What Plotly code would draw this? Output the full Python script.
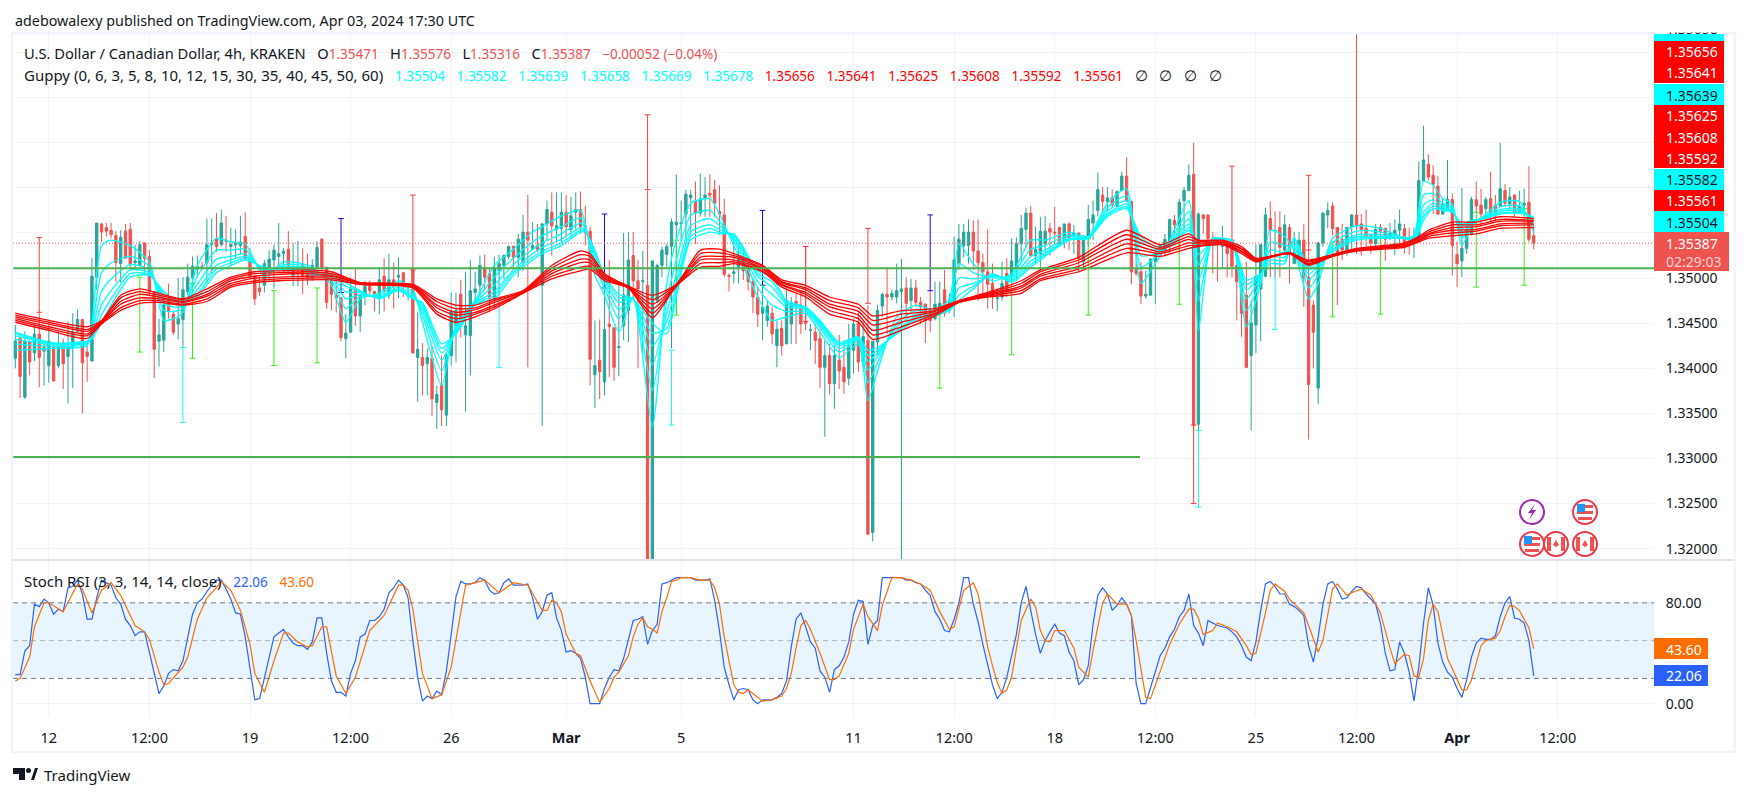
"""USD/CAD 4h chart with Guppy ribbons and Stoch RSI, drawn with Plotly."""

import pandas as pd
import plotly.graph_objects as go
from plotly.subplots import make_subplots

# every price below is in points above 1.30000, one point = 0.0001
POINT = 0.0001
BASE_PRICE = 1.30

# (open, high, low, close) per 4h bar
candles_feb_a = [
    (411,448,400,430),(433,439,367,391),(368,441,366,430),(429,431,392,407),(417,449,408,438),(438,462,379,412),
    (419,427,381,423),(403,451,384,430),(424,429,385,386),(403,440,400,424),(428,433,377,405),(413,452,361,424),
    (423,461,378,440),(441,465,440,454),(454,454,350,406),(418,427,385,413),(408,522,408,502),(501,561,487,561),
    (560,561,540,551),(556,561,546,552),(553,561,544,548),(547,552,496,517),(516,553,495,545),(552,560,522,522),
    (554,561,509,515),(517,537,509,519),(514,541,514,537),(539,539,503,522),(524,531,481,485),(485,485,389,421),
    (430,455,402,437),(431,479,418,470),(474,494,455,464),(460,464,437,440),(449,500,432,455),(454,501,424,487),
    (485,516,481,501),(500,524,490,513),(510,525,501,513),(513,518,510,512),(517,566,494,537),(537,566,505,539),
    (544,572,529,535),(537,576,535,561),(542,569,529,541),(535,556,514,537),(537,554,522,539),(536,569,527,540),
    (546,573,520,521),(521,533,501,502),(502,503,470,477),(489,503,480,485),(492,520,484,516),(506,531,497,521),
    (520,537,488,531),(524,561,514,527),(527,533,507,530),(532,552,507,508),(503,539,491,512),(510,541,491,511),
    (515,533,482,503),(511,527,492,501),
]
candles_feb_b = [
    (501,521,497,514),(512,541,510,534),(543,544,510,510),(512,512,466,473),(497,506,464,482),(481,497,462,478),
    (478,479,430,434),(433,460,411,439),(440,501,440,488),(488,510,447,458),(458,481,440,481),(480,497,470,491),
    (491,497,482,486),(485,486,463,479),(479,512,460,498),(502,522,463,486),(481,527,477,498),(498,517,466,491),
    (501,523,478,503),(506,506,479,492),(480,490,475,481),(509,509,416,417),(412,462,363,421),(412,428,370,403),
    (405,422,370,412),(411,425,347,366),(362,381,333,371),(381,414,336,354),(348,416,336,415),(414,484,403,463),
    (447,484,407,464),(482,498,434,455),(437,507,352,447),(436,520,392,486),(484,507,470,488),(492,525,479,514),
    (512,526,486,501),(505,510,462,477),(476,524,465,510),(508,526,481,516),(514,526,499,525),(524,536,521,535),
    (535,536,510,523),(523,549,501,543),(518,570,508,551),(551,592,401,542),(532,562,531,536),(536,560,529,532),
    (492,561,336,560),(560,586,542,576),(573,595,525,558),(554,595,540,558),(555,595,540,573),(573,592,545,557),
    (554,590,543,569),(573,595,555,576),(576,596,549,557),(558,580,536,550),
]
candles_mar_a = [
    (552,557,381,410),(393,453,356,403),(409,454,366,396),(385,520,370,443),(449,520,390,446),(445,445,386,401),
    (423,495,391,424),(447,550,431,481),(464,551,429,520),(525,551,477,497),(497,520,400,488),(496,530,416,497),
    (492,597,150,170),(170,519,150,519),(475,516,472,514),(514,535,501,531),(526,538,512,535),(535,566,422,562),
    (559,615,461,562),(560,586,542,561),(571,598,542,593),(589,598,548,592),(585,607,538,572),(572,616,568,588),
    (588,612,568,592),(594,615,568,592),(598,609,568,583),(574,603,549,571),(570,588,501,504),(503,505,485,502),
    (505,540,494,507),(512,538,494,522),(521,531,498,508),(511,520,486,496),(496,501,461,479),(479,490,446,460),
    (461,492,431,468),(453,475,446,469),(461,468,427,438),(425,453,401,443),(444,453,414,425),(427,490,427,475),
    (449,479,427,473),(474,485,427,469),(470,486,438,449),(451,535,442,450),(442,449,420,443),(440,449,405,431),
    (433,446,378,401),(401,431,324,414),(414,427,371,383),(383,425,355,414),(409,437,377,397),(401,431,372,385),
    (389,449,381,425),(420,455,394,449),(450,462,396,407),(407,453,401,435),
]
candles_mar_b = [
    (431,470,216,216),(218,430,208,430),(429,470,415,464),(469,484,457,482),(482,511,438,479),(479,487,475,483),
    (479,516,472,486),(485,521,180,488),(489,501,457,472),(475,499,460,489),(489,498,468,473),(473,479,449,468),
    (471,472,428,453),(464,486,440,453),(455,496,453,471),(461,496,457,472),(487,509,457,461),(464,483,461,473),
    (470,546,457,520),(516,560,509,543),(536,560,523,551),(536,565,516,551),(551,564,509,530),(530,565,475,517),
    (517,527,483,507),(507,554,466,493),(494,516,466,479),(477,488,463,478),(479,518,475,494),(505,522,479,486),
    (503,544,497,519),(512,545,497,538),(538,570,516,555),(554,578,534,572),(572,580,523,525),(525,557,516,532),
    (527,568,507,552),(538,569,524,552),(555,561,525,551),(551,579,537,550),(556,557,537,537),(541,560,533,560),
    (560,562,531,545),(546,559,527,550),(550,550,506,522),(518,548,512,545),(544,581,535,565),(561,586,542,570),
    (575,617,568,598),(592,601,574,585),(585,601,574,589),(589,598,578,581),(580,597,578,596),(597,618,596,613),
]
candles_mar_c = [
    (613,634,584,585),(585,586,493,507),(509,545,502,505),(507,518,471,480),(480,508,477,482),(481,522,481,521),
    (518,533,471,527),(527,537,524,537),(531,549,524,543),(535,565,528,565),(564,570,548,559),(558,588,531,584),
    (586,601,553,597),(597,626,596,614),(615,650,331,337),(338,573,331,571),(570,571,549,566),(570,570,542,544),
    (544,551,505,542),(543,544,496,538),(535,558,511,537),(540,542,501,527),(538,542,501,513),(514,516,453,496),
    (494,496,435,461),(481,518,400,401),(414,475,331,450),(448,537,417,502),(488,537,430,537),(502,578,501,570),
    (566,585,501,553),(553,574,501,552),(556,574,501,534),(531,570,527,559),
]
candles_apr = [
    (556,560,494,527),(516,551,516,529),(525,551,512,542),(542,560,468,500),(501,531,321,382),(470,475,400,440),
    (378,540,360,539),(539,573,535,572),(570,584,555,575),(580,584,547,555),(556,556,470,525),(543,560,520,531),
    (531,557,525,556),(557,571,529,570),(570,775,527,558),(560,571,525,554),(555,576,531,545),(547,549,527,539),
    (538,560,533,554),(556,560,546,552),(555,556,519,543),(544,561,542,550),(548,565,525,553),(553,576,536,560),
    (555,560,527,540),(545,556,526,543),(540,556,522,544),(542,629,540,608),(608,669,607,631),(626,637,608,612),
    (614,625,571,604),(602,613,570,571),(571,588,570,582),(576,631,575,587),(587,594,503,536),(526,540,490,516),
    (519,600,501,533),(533,557,527,554),(549,590,547,587),(587,607,573,580),(581,599,557,571),(577,590,564,587),
    (588,618,562,570),(581,592,564,571),(580,650,579,599),(597,604,579,583),(582,601,575,590),(592,593,568,573),
    (573,597,571,580),(581,599,573,583),(584,624,540,543),(547,558,532,539),
]

# long thin marks with small end caps: (bar, top, bottom)
spikes_red = [(5,545,462),(83,592,509),(132,681,598),(165,535,452),(178,555,472),(246,337,250),(254,624,542),(270,614,531)]
spikes_blue = [(68,566,484),(123,571,489),(156,575,492),(191,570,486)]
spikes_lime = [(26,501,418),(37,494,411),(54,486,403),(63,489,406),(138,542,459),(193,462,378),(208,498,415),
               (224,544,459),(243,554,471),(275,540,457),(285,546,460),(305,573,490),(315,577,492)]
spikes_cyan = [(35,423,340),(101,508,401),(137,420,337),(247,331,246),(263,553,443)]

# Guppy ribbons, sampled at these bars, one row per bar, one column per line
fast_bars = [0,8,15,16,18,20,24,28,31,33,35,38,42,45,48,52,56,60,62,66,69,72,76,80,83,85,89,92,96,100,104,108,110,
             114,118,119,121,123,126,129,133,136,138,141,145,147,150,155,158,161,165,168,172,176,178,180,184,188,
             192,195,197,200,204,208,212,215,220,224,228,232,235,238,241,245,247,250,254,257,260,262,265,267,270,
             272,275,280,285,290,292,294,296,298,300,302,304,307,310,314,317]
fast_rows = [
    (420,427,432,436,438,440),(422,424,426,427,427,428),(425,427,428,429,430,430),(450,444,439,436,434,432),
    (536,506,485,470,459,451),(542,517,499,486,477,470),(536,524,515,509,505,501),(518,513,509,506,504,503),
    (453,464,472,478,482,485),(455,463,468,472,475,477),(462,466,469,471,473,474),(514,502,493,487,482,479),
    (544,531,521,514,510,506),(540,531,524,520,517,514),(538,532,527,524,522,520),(501,505,508,510,511,512),
    (518,515,513,511,510,509),(516,514,512,511,511,510),(512,509,507,505,504,503),(492,497,500,502,504,505),
    (451,466,477,485,491,495),(477,480,482,484,485,486),(483,481,479,478,478,477),(497,493,490,488,487,486),
    (488,484,481,479,478,477),(451,459,464,468,471,473),(381,397,409,417,422,427),(449,445,442,440,439,438),
    (475,474,473,472,471,471),(514,501,492,485,481,477),(532,522,515,509,506,503),(551,540,532,527,523,520),
    (557,547,539,534,530,527),(569,557,549,543,539,536),(575,567,561,556,553,551),(560,557,555,553,552,551),
    (503,513,520,525,528,531),(481,489,494,498,501,503),(440,455,465,473,478,482),(479,478,478,477,477,477),
    (335,375,404,425,439,450),(494,475,462,452,444,438),(542,520,504,493,485,479),(583,569,558,551,546,542),
    (588,575,566,559,555,551),(571,563,558,554,551,549),(536,541,544,546,548,549),(479,489,496,502,505,508),
    (453,470,482,490,496,501),(457,463,468,471,473,475),(461,463,465,466,467,468),(440,445,448,450,452,453),
    (412,418,422,425,427,429),(427,430,432,433,434,435),(364,384,398,408,414,420),(397,406,413,417,420,423),
    (457,450,446,442,440,438),(470,464,460,457,455,453),(464,462,460,459,459,458),(477,472,469,467,465,464),
    (538,516,500,489,481,475),(516,506,499,494,491,488),(497,500,502,503,504,505),(505,503,501,499,497,495),
    (542,532,524,519,515,512),(542,536,531,528,526,524),(551,548,546,544,543,542),(546,545,545,544,544,544),
    (583,578,574,571,570,568),(599,591,586,582,579,577),(494,512,525,535,541,546),(516,523,527,531,533,535),
    (542,540,538,537,536,535),(586,574,566,560,556,553),(442,475,498,515,526,535),(544,543,542,542,541,541),
    (540,541,541,542,542,542),(446,464,477,487,493,498),(494,498,501,503,504,505),(553,540,531,524,520,516),
    (546,536,528,523,519,516),(530,535,539,542,544,545),(477,489,498,504,509,512),(494,503,510,514,517,520),
    (544,539,535,532,531,529),(558,552,548,546,544,542),(555,551,548,546,545,544),(545,545,544,544,544,544),
    (547,545,543,542,541,540),(607,592,581,573,568,564),(603,594,587,583,580,577),(588,583,580,578,576,575),
    (582,579,577,575,574,573),(536,544,550,555,558,560),(557,559,561,562,563,564),(571,569,568,567,567,566),
    (584,579,576,574,572,571),(585,580,577,575,573,572),(550,558,564,566,567,568),
]
slow_bars = [0,7,15,18,22,26,30,35,40,45,50,55,61,66,72,83,88,92,96,100,106,112,118,120,123,128,133,138,143,147,150,
             156,160,165,170,176,179,185,192,197,203,210,214,222,232,239,245,247,252,256,259,262,266,270,275,280,
             290,293,295,300,305,310,317]
slow_rows = [
    (461,459,457,455,453,451),(453,451,449,446,444,442),(446,443,441,438,436,433),(453,452,451,451,450,449),
    (481,478,474,471,467,464),(488,485,482,478,475,472),(483,481,479,477,475,473),(477,476,474,473,471,470),
    (488,485,482,480,477,474),(501,499,497,494,492,490),(507,505,502,500,497,495),(508,506,504,501,499,497),
    (509,507,505,502,500,498),(507,505,503,502,500,498),(495,495,494,494,493,493),(493,492,491,491,490,489),
    (477,474,470,467,463,460),(470,466,462,459,455,451),(470,467,465,462,460,457),(477,475,473,470,468,466),
    (486,485,485,484,484,483),(514,511,508,505,502,499),(530,526,521,517,512,508),(527,524,520,517,513,510),
    (505,503,502,500,499,497),(491,491,490,490,489,489),(481,476,471,466,461,456),(493,493,492,492,491,491),
    (531,527,523,520,516,512),(532,528,524,521,517,513),(527,525,523,520,518,516),(514,513,511,510,508,507),
    (498,496,495,493,492,490),(492,489,487,484,482,479),(479,475,471,468,464,460),(471,467,463,459,455,451),
    (458,453,448,442,437,432),(464,460,455,451,446,442),(466,464,463,461,460,458),(475,475,474,474,473,473),
    (484,483,482,481,480,479),(497,494,491,489,486,483),(509,507,504,502,499,497),(523,520,517,513,510,507),
    (553,548,543,538,533,528),(537,534,532,529,527,524),(549,546,543,539,536,533),(542,541,539,538,536,535),
    (542,541,540,539,538,537),(535,533,532,530,529,527),(522,521,520,520,519,518),(524,524,524,524,523,523),
    (528,528,528,527,527,527),(520,519,518,516,515,514),(526,526,525,525,524,524),(533,532,532,531,531,530),
    (539,538,537,536,535,534),(546,545,544,542,541,540),(553,551,549,548,546,544),(562,559,556,553,550,547),
    (562,559,557,554,552,549),(568,565,563,560,558,555),(566,564,563,561,559,556),
]

# Stoch RSI: %K per bar, %D at the bars where it turns
stoch_k = [
    23,23,42,46,79,77,83,80,71,75,73,92,93,98,87,67,67,84,98,96,94,84,79,67,62,54,57,57,40,24,8,14,24,27,26,34,53,71,80,83,
    89,94,98,98,91,83,72,71,53,28,3,4,21,37,53,56,59,53,48,46,46,43,49,68,68,40,18,9,9,6,24,34,53,55,66,66,69,75,88,92,
    98,94,84,50,21,2,6,4,10,7,26,55,85,97,95,95,96,100,98,90,87,88,96,99,94,94,94,95,84,67,73,86,88,68,58,41,42,40,36,21,
    0,0,0,12,21,27,26,36,50,66,67,69,47,58,63,95,96,98,100,100,100,100,98,98,98,99,82,58,29,15,3,11,12,11,3,0,3,3,3,5,8,18,
    45,67,72,61,49,44,26,21,9,27,30,37,49,71,82,81,47,62,66,100,100,100,100,100,98,98,96,95,90,86,73,67,58,57,67,80,100,100,79,65,
    47,32,15,4,9,21,37,55,80,93,74,55,40,50,57,63,56,54,41,34,15,19,30,63,86,92,87,74,78,84,79,70,16,0,0,
    13,24,38,44,53,59,69,74,87,62,56,46,66,64,62,61,60,57,53,46,37,34,49,74,95,97,93,87,87,79,77,74,70,46,33,53,79,95,97,91,
    83,84,89,93,92,87,83,79,64,40,26,27,49,40,25,2,29,64,92,78,48,33,25,21,12,5,19,37,48,52,51,51,54,69,80,85,68,67,64,50,22.06,
]
stoch_d_bars = [
    0,1,3,4,6,7,10,12,13,14,16,18,20,22,25,27,28,30,31,32,35,36,38,40,42,43,45,47,49,50,52,54,56,57,59,61,62,64,65,67,69,71,
    74,77,80,81,82,83,85,87,89,91,93,94,96,98,101,104,107,110,111,112,113,114,115,117,118,120,122,124,125,126,128,129,130,131,
    132,133,134,135,136,137,138,139,141,143,145,146,147,148,150,151,152,153,154,155,156,158,160,161,162,163,164,165,166,168,
    169,170,171,172,174,175,177,178,180,181,183,185,187,189,191,193,195,196,198,200,201,202,203,204,205,206,207,208,209,210,
    212,213,214,215,216,217,219,221,222,224,225,227,228,230,232,233,234,236,237,239,241,243,245,246,247,248,250,251,253,255,
    257,258,259,261,262,263,265,266,269,270,272,273,275,276,278,279,281,283,285,287,288,290,291,292,293,294,295,296,297,299,
    301,302,303,304,305,306,307,309,310,311,312,313,314,316,317,
]
stoch_d = [
    18,20,37,61,80,80,73,87,95,91,72,90,96,86,62,57,51,25,15,16,29,37,67,84,92,97,90,74,47,24,9,34,56,56,49,45,46,61,61,22,8,21,
    58,70,94,94,90,75,24,4,7,29,74,94,96,98,88,96,94,74,74,82,80,73,55,40,38,18,1,12,21,25,38,53,63,68,
    61,59,56,73,84,97,98,100,100,98,98,92,79,53,15,9,8,11,8,5,2,3,6,12,24,44,62,66,59,40,
    29,19,19,22,40,59,79,69,58,78,100,100,98,95,90,73,59,61,90,96,87,67,45,30,17,8,11,21,42,66,
    83,77,58,50,49,58,58,44,29,21,42,80,87,79,79,70,50,5,4,26,47,63,75,75,68,55,58,64,61,57,
    46,39,40,72,90,95,89,83,72,62,41,50,91,95,86,88,91,86,72,44,32,39,38,22,21,36,66,79,73,36,
    19,11,11,19,32,46,50,52,58,69,78,77,74,60,43.6,
]

stoch_levels = [80, 50, 20]
green_levels = [1.3511, 1.33015]
last_close = 1.35387
price_ticks = [1.32, 1.325, 1.33, 1.335, 1.34, 1.345, 1.35, 1.355, 1.36, 1.365, 1.37, 1.375]
price_labels = ["1.32000", "1.32500", "1.33000", "1.33500", "1.34000", "1.34500", "1.35000", "", "", "", "", ""]
time_ticks = ["2024-02-12", "2024-02-15 12:00", "2024-02-19", "2024-02-22 12:00", "2024-02-26", "2024-03-01",
              "2024-03-05", "2024-03-11", "2024-03-14 12:00", "2024-03-18", "2024-03-21 12:00", "2024-03-25",
              "2024-03-28 12:00", "2024-04-01", "2024-04-04 12:00"]
time_labels = ["12", "12:00", "19", "12:00", "26", "<b>Mar</b>", "5", "11", "12:00", "18", "12:00", "25", "12:00",
               "<b>Apr</b>", "12:00"]
guppy_fast_values = ["1.35504", "1.35582", "1.35639", "1.35658", "1.35669", "1.35678"]
guppy_slow_values = ["1.35656", "1.35641", "1.35625", "1.35608", "1.35592", "1.35561"]

FONT = "Noto Sans"
INK = "#131722"
GRID = "#f0f3fa"
UP = "#26a69a"
DOWN = "#ef5350"

# page geometry in pixels of the screenshot; the page body adds 8px around the figure
BODY = 8
PAGE_W, PAGE_H = 1747, 796
LEFT, RIGHT, TOP, SPLIT, BOTTOM = 13, 1654, 34, 560, 717
PLOT_W, PLOT_H = RIGHT - LEFT, BOTTOM - TOP


def px(x):
    return (x - LEFT) / PLOT_W


def py(y):
    return (BOTTOM - y) / PLOT_H


def price(points):
    return BASE_PRICE + points * POINT


candles = candles_feb_a + candles_feb_b + candles_mar_a + candles_mar_b + candles_mar_c + candles_apr
assert len(candles) == 318, len(candles)
assert len(stoch_k) == 318, len(stoch_k)
assert len(stoch_d) == len(stoch_d_bars), (len(stoch_d), len(stoch_d_bars))
assert len(fast_rows) == len(fast_bars), (len(fast_rows), len(fast_bars))
assert len(slow_rows) == len(slow_bars), (len(slow_rows), len(slow_bars))

bar_times = pd.date_range("2024-02-10 20:00", periods=len(candles), freq="4h")
BAR_PX = 4.79
FIRST_BAR_PX = 15.3
x_start = bar_times[0] + pd.Timedelta(hours=4 * (LEFT - FIRST_BAR_PX) / BAR_PX)
x_end = bar_times[0] + pd.Timedelta(hours=4 * (RIGHT - FIRST_BAR_PX) / BAR_PX)

fig = make_subplots(rows=2, cols=1, shared_xaxes=True, vertical_spacing=0,
                    row_heights=[SPLIT - TOP, BOTTOM - SPLIT])

fig.add_trace(go.Candlestick(
    x=bar_times,
    open=[price(c[0]) for c in candles],
    high=[price(c[1]) for c in candles],
    low=[price(c[2]) for c in candles],
    close=[price(c[3]) for c in candles],
    increasing=dict(line=dict(color=UP, width=1), fillcolor=UP),
    decreasing=dict(line=dict(color=DOWN, width=1), fillcolor=DOWN),
    whiskerwidth=0,
    showlegend=False,
    hoverinfo="skip",
), row=1, col=1)

for spikes, color in [(spikes_red, "#ff3b3b"), (spikes_blue, "#2200ee"), (spikes_lime, "#33ee11"), (spikes_cyan, "#19f5f5")]:
    xs, ys = [], []
    for bar, top, bottom in spikes:
        xs += [bar_times[bar], bar_times[bar], None]
        ys += [price(top), price(bottom), None]
    fig.add_trace(go.Scatter(x=xs, y=ys, mode="lines+markers", showlegend=False, hoverinfo="skip",
                             line=dict(color=color, width=1),
                             marker=dict(symbol="line-ew", size=4, line=dict(color=color, width=1))),
                  row=1, col=1)

for k in range(6):
    fig.add_trace(go.Scatter(x=[bar_times[b] for b in fast_bars], y=[price(r[k]) for r in fast_rows],
                             mode="lines", showlegend=False, hoverinfo="skip",
                             line=dict(color="#00ffff", width=1.3, shape="spline", smoothing=0.6)), row=1, col=1)
for k in range(6):
    fig.add_trace(go.Scatter(x=[bar_times[b] for b in slow_bars], y=[price(r[k]) for r in slow_rows],
                             mode="lines", showlegend=False, hoverinfo="skip",
                             line=dict(color="#ff0000", width=1.3, shape="spline", smoothing=0.6)), row=1, col=1)

fig.add_trace(go.Scatter(x=bar_times, y=stoch_k, mode="lines", showlegend=False, hoverinfo="skip",
                         line=dict(color="#2962ff", width=1.2)), row=2, col=1)
fig.add_trace(go.Scatter(x=[bar_times[b] for b in stoch_d_bars], y=stoch_d, mode="lines", showlegend=False,
                         hoverinfo="skip", line=dict(color="#ff6d00", width=1.2)), row=2, col=1)

shapes = []
# stoch band and its dashed levels
shapes.append(dict(type="rect", xref="paper", yref="y2", x0=0, x1=1, y0=stoch_levels[2], y1=stoch_levels[0],
                   fillcolor="rgba(33,150,243,0.1)", line_width=0, layer="below"))
for level in stoch_levels:
    shapes.append(dict(type="line", xref="paper", yref="y2", x0=0, x1=1, y0=level, y1=level, layer="above",
                       line=dict(color="#787b86" if level != 50 else "rgba(120,123,134,0.55)", width=1, dash="5px,4px")))
# support lines and last price
shapes.append(dict(type="line", xref="paper", yref="y", x0=0, x1=1, y0=green_levels[0], y1=green_levels[0],
                   line=dict(color="#4caf50", width=2)))
shapes.append(dict(type="line", xref="paper", yref="y", x0=0, x1=px(1140), y0=green_levels[1], y1=green_levels[1],
                   line=dict(color="#4caf50", width=2)))
shapes.append(dict(type="line", xref="paper", yref="y", x0=0, x1=1, y0=last_close, y1=last_close,
                   line=dict(color="#ef5350", width=1, dash="1px,2px")))


def box(x0, y0, x1, y1, fill, line=None, width=0, kind="rect"):
    shapes.append(dict(type=kind, xref="paper", yref="paper", x0=px(x0), x1=px(x1), y0=py(y0), y1=py(y1),
                       fillcolor=fill, line=dict(color=line or fill, width=width), layer="above"))


def path(points, fill):
    d = "M" + " L".join(f"{px(a):.5f} {py(b):.5f}" for a, b in points) + " Z"
    shapes.append(dict(type="path", xref="paper", yref="paper", path=d, fillcolor=fill, line_width=0, layer="above"))


# pane divider and outer frame
shapes.append(dict(type="line", xref="paper", yref="paper", x0=0, x1=px(1734), y0=py(SPLIT), y1=py(SPLIT),
                   line=dict(color="#e0e3eb", width=2)))
shapes.append(dict(type="rect", xref="paper", yref="paper", x0=px(12), x1=px(1735), y0=py(33), y1=py(752),
                   line=dict(color=GRID, width=2.5)))

# price tags on the axis
box(RIGHT, 34, 1724, 41, "#00ffff")
box(RIGHT, 41, 1724, 83, "#ff0000")
box(RIGHT, 84, 1724, 105, "#00ffff")
box(RIGHT, 105, 1724, 168, "#ff0000")
box(RIGHT, 169, 1724, 190, "#00ffff")
box(RIGHT, 190, 1724, 211, "#ff0000")
box(RIGHT, 211, 1724, 232, "#00ffff")
box(RIGHT, 232, 1729, 271, DOWN)
box(RIGHT, 638, 1708, 659, "#ff6d00")
box(RIGHT, 665, 1708, 686, "#2962ff")

# event badges
for cx, cy in [(1585, 512), (1532, 544)]:
    box(cx - 12, cy - 12, cx + 12, cy + 12, "#ffffff", "#f23645", 2, "circle")
    box(cx - 8, cy - 7, cx + 8, cy - 4, "#ef5350")
    box(cx - 8, cy - 1, cx + 8, cy + 2, "#ef5350")
    box(cx - 7, cy + 5, cx + 7, cy + 8, "#ef5350")
    box(cx - 8, cy - 8, cx, cy, "#2196f3")
for cx, cy in [(1556, 544), (1585, 544)]:
    box(cx - 12, cy - 12, cx + 12, cy + 12, "#ffffff", "#f23645", 2, "circle")
    box(cx - 9, cy - 7, cx - 5, cy + 7, "#ef5350")
    box(cx + 5, cy - 7, cx + 9, cy + 7, "#ef5350")
    path([(cx, cy - 4), (cx + 3, cy + 1), (cx, cy + 3), (cx - 3, cy + 1)], "#ef5350")
box(1532 - 12, 512 - 12, 1532 + 12, 512 + 12, "#ffffff", "#9c27b0", 2, "circle")
path([(1535, 504), (1528, 513), (1532, 513), (1529, 520), (1536, 510), (1532, 510)], "#9c27b0")

# TradingView logo
path([(13, 768), (25, 768), (25, 780), (19, 780), (19, 774), (13, 774)], INK)
box(26, 768, 31, 773, INK, kind="circle")
path([(31, 780), (35, 768), (38, 768), (34, 780)], INK)

annotations = []


def label(x, y, text, size=14, color=INK, anchor="left"):
    annotations.append(dict(xref="paper", yref="paper", x=px(x), y=py(y), text=text, showarrow=False,
                            xanchor=anchor, yanchor="middle", xshift=0, align="left",
                            font=dict(family=FONT, size=size, color=color)))


def colored(text, color, size=13.5):
    return f'<span style="color:{color};font-size:{size}px">{text}</span>'


label(13, 20, "adebowalexy published on TradingView.com, Apr 03, 2024 17:30 UTC", size=14.3)
gap = "&nbsp;&nbsp;&nbsp;"
label(22, 53, "U.S. Dollar / Canadian Dollar, 4h, KRAKEN" + gap
      + "O" + colored("1.35471", DOWN) + gap + "H" + colored("1.35576", DOWN) + gap
      + "L" + colored("1.35316", DOWN) + gap + "C" + colored("1.35387", DOWN) + gap
      + colored("−0.00052 (−0.04%)", DOWN), size=14.7)
label(22, 75, "Guppy (0, 6, 3, 5, 8, 10, 12, 15, 30, 35, 40, 45, 50, 60)" + gap
      + gap.join(colored(v, "#00ffff") for v in guppy_fast_values) + gap
      + gap.join(colored(v, "#ff0000") for v in guppy_slow_values) + gap
      + gap.join(["∅"] * 4), size=15)
label(22, 581, "Stoch RSI (3, 3, 14, 14, close)" + gap + colored("22.06", "#2962ff") + gap + colored("43.60", "#ff6d00"),
      size=15)
label(42, 775, "TradingView", size=15)

tag_x = 1664
label(tag_x, 29, "1.35658")
annotations.append(dict(xref="paper", yref="paper", x=px(RIGHT), y=py(33), text="&nbsp;", showarrow=False,
                        xanchor="left", yanchor="bottom", width=72, height=24, bgcolor="#ffffff", borderpad=0))
for y, text in [(52, "1.35656"), (73, "1.35641"), (116, "1.35625"), (137, "1.35608"), (158, "1.35592"), (201, "1.35561")]:
    label(tag_x, y, text, color="#ffffff")
for y, text in [(95, "1.35639"), (180, "1.35582"), (222, "1.35504")]:
    label(tag_x, y, text)
label(tag_x, 243, "1.35387", color="#ffffff")
label(tag_x, 261, "02:29:03", color="rgba(255,255,255,0.75)")
label(tag_x, 649, "43.60", color="#ffffff")
label(tag_x, 675, "22.06", color="#ffffff")

fig.update_layout(
    width=PAGE_W - 2 * BODY,
    height=PAGE_H - 2 * BODY,
    margin=dict(l=LEFT - BODY, r=PAGE_W - BODY - RIGHT, t=TOP - BODY, b=PAGE_H - BODY - BOTTOM, pad=0),
    paper_bgcolor="#ffffff",
    plot_bgcolor="#ffffff",
    font=dict(family=FONT, size=14, color=INK),
    showlegend=False,
    shapes=shapes,
    annotations=annotations,
    hovermode=False,
)
fig.update_xaxes(type="date", range=[x_start, x_end], tickmode="array", tickvals=time_ticks, ticktext=time_labels,
                 showgrid=True, gridcolor=GRID, gridwidth=1, zeroline=False, showline=False, tickfont_size=14.5,
                 rangeslider_visible=False, ticks="outside", ticklen=8, tickcolor="#ffffff")
fig.update_yaxes(side="right", showgrid=True, gridcolor=GRID, gridwidth=1, zeroline=False, showline=False,
                 tickmode="array", ticks="outside", ticklen=8, tickcolor="#ffffff")
fig.update_yaxes(range=[1.31874, 1.37706], tickvals=price_ticks, ticktext=price_labels, row=1, col=1)
fig.update_yaxes(range=[-10.6, 114], tickvals=[0, 40, 80], ticktext=["0.00", "", "80.00"], row=2, col=1)

fig.write_html("out.html")
